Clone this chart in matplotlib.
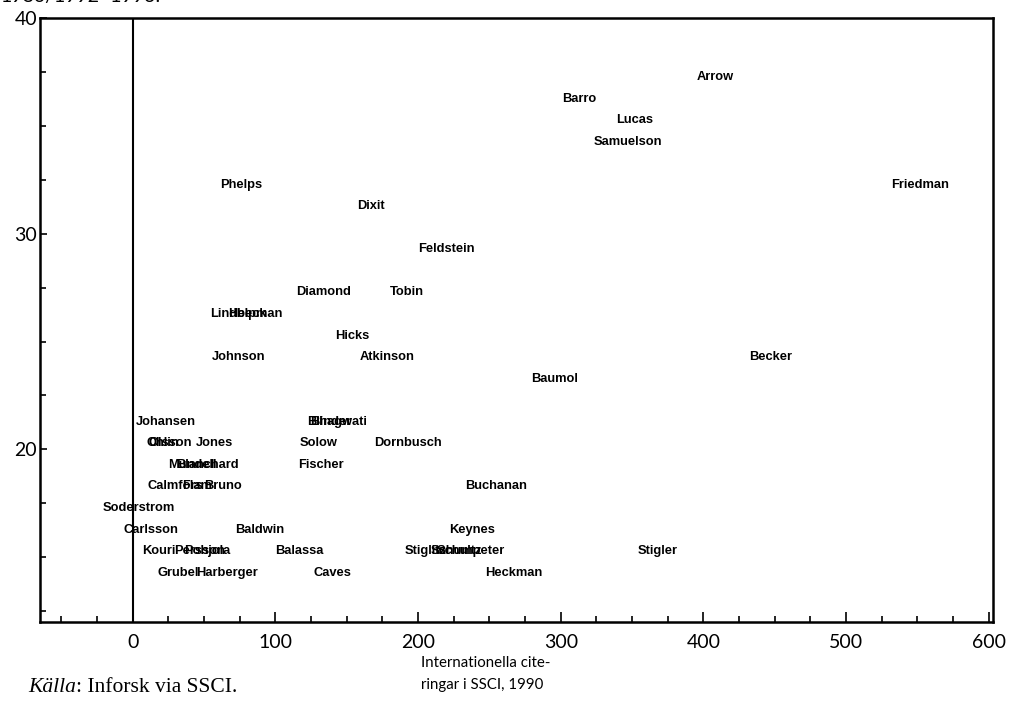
import numpy as np
import matplotlib
matplotlib.use("Agg")
import matplotlib.pyplot as plt
from matplotlib.ticker import MultipleLocator

# economists: x = international citations in SSCI 1990, y = score
names = ["Arrow", "Barro", "Lucas", "Samuelson", "Phelps", "Friedman", "Dixit",
         "Feldstein", "Diamond", "Tobin", "Lindbeck", "Helpman", "Hicks",
         "Johnson", "Atkinson", "Becker", "Baumol", "Johansen", "Blinder",
         "Bhagwati", "Ohlin", "Olsson", "Jones", "Solow", "Dornbusch",
         "Mundell", "Blanchard", "Fischer", "Calmfors", "Flam", "Bruno",
         "Buchanan", "Soderstrom", "Carlsson", "Baldwin", "Keynes", "Kouri",
         "Persson", "Pohjola", "Balassa", "Stiglitz", "Schultz", "Schumpeter",
         "Stigler", "Grubel", "Harberger", "Caves", "Heckman"]
cites = [408, 313, 352, 347, 76, 552, 167,
         220, 134, 192, 74, 86, 154,
         74, 178, 447, 296, 23, 138,
         144, 21, 26, 57, 130, 193,
         42, 52, 132, 30, 45, 63,
         255, 4, 13, 89, 238, 18,
         47, 52, 117, 205, 229, 235,
         368, 32, 66, 140, 267]
score = [37, 36, 35, 34, 32, 32, 31,
         29, 27, 27, 26, 26, 25,
         24, 24, 24, 23, 21, 21,
         21, 20, 20, 20, 20, 20,
         19, 19, 19, 18, 18, 18,
         18, 17, 16, 16, 16, 15,
         15, 15, 15, 15, 15, 15,
         15, 14, 14, 14, 14]

plt.rcParams["font.family"] = ["Lato", "DejaVu Sans"]

fig = plt.figure(figsize=(10.11, 7.13), dpi=100)
ax = fig.add_axes([0.0396, 0.128, 0.9426, 0.8463])

for n, x, y in zip(names, cites, score):
    ax.text(x, y, n, ha="center", va="bottom", fontsize=9.3,
            fontweight="bold", family=["Liberation Sans", "DejaVu Sans"])

ax.axvline(0, color="black", lw=1.5)
ax.set_xlim(-65, 603)
ax.set_ylim(12, 40)

ax.xaxis.set_major_locator(MultipleLocator(100))
ax.xaxis.set_minor_locator(MultipleLocator(25))
ax.yaxis.set_major_locator(MultipleLocator(10))
ax.yaxis.set_minor_locator(MultipleLocator(2.5))
ax.tick_params(which="both", direction="in", width=1.2, labelsize=14)
ax.tick_params(axis="x", which="major", length=7, pad=9)
ax.tick_params(axis="x", which="minor", length=4)
ax.tick_params(axis="y", which="major", length=5, pad=2)
ax.tick_params(axis="y", which="minor", length=4)
for s in ax.spines.values():
    s.set_linewidth(1.8)

# partially cropped heading at the top
fig.text(0.0, 1 - 2 / 713, "1986/1992–1993:", fontsize=14, va="baseline")

fig.text(421 / 1011, 1 - 674 / 713, "Internationella cite-\nringar i SSCI, 1990",
         fontsize=10.8, ha="left", va="center", linespacing=1.8)

# source note: "Källa" in italics followed by plain text
src_fam = ["Liberation Serif", "DejaVu Serif"]
t1 = fig.text(28 / 1011, 1 - 688 / 713, "Källa", fontsize=15.5, style="italic",
              family=src_fam, va="center")
fig.canvas.draw()
bb = t1.get_window_extent()
fig.text(bb.x1 / fig.bbox.width, 1 - 688 / 713, ": Inforsk via SSCI.",
         fontsize=15.5, family=src_fam, va="center")

plt.savefig("out.png", dpi=100)
